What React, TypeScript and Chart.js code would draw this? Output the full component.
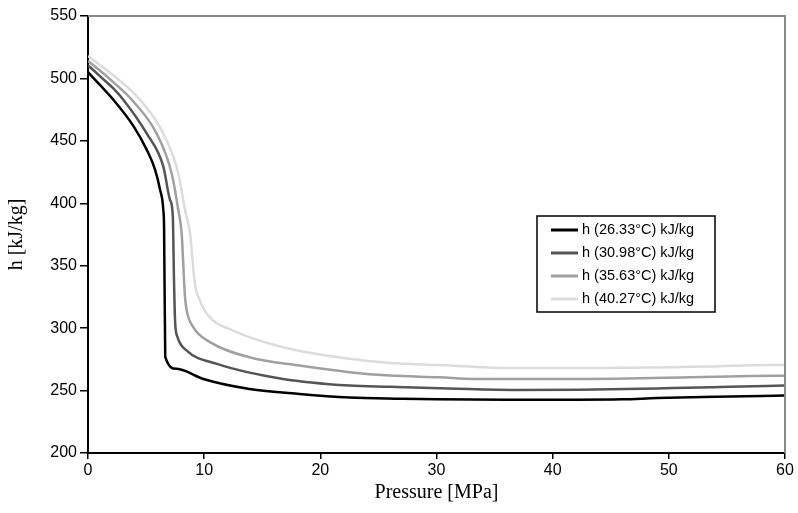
import React, { useEffect, useRef } from "react";
import { Chart, registerables } from "chart.js";

Chart.register(...registerables);

// ---- Data ----
const seriesLabels = [
  "h (26.33°C) kJ/kg",
  "h (30.98°C) kJ/kg",
  "h (35.63°C) kJ/kg",
  "h (40.27°C) kJ/kg",
];
const seriesColors = ["#000000", "#555555", "#a0a0a0", "#dcdcdc"];

const p26 = [0, 1, 2.18, 3.9, 5.05, 5.77, 6.2, 6.48, 6.55, 6.65, 7.63, 9.93, 13.9, 18.2, 22.5, 27, 30, 36, 42, 46, 49, 54, 60];
const h26 = [505, 495, 483, 462, 443, 427, 411, 395, 380, 277, 267.4, 259.3, 251.3, 247.3, 244.5, 243.5, 243, 242.7, 242.7, 243, 244, 245, 246];

const p31 = [0, 1, 2.18, 3.04, 5.05, 6.48, 7.06, 7.3, 7.4, 7.5, 7.7, 8.5, 11.1, 16.8, 22.5, 26, 30.3, 36.6, 42.3, 50.3, 55.2, 60];
const h31 = [510.6, 502, 492, 483, 456, 429.6, 402.8, 390, 340, 305, 293, 282, 271.4, 259.3, 254, 253, 251.8, 250.5, 250.7, 252, 253, 254];

const p36 = [0, 1, 2.18, 3.76, 5.9, 7.2, 7.77, 8.06, 8.35, 8.5, 9.06, 10.5, 13.9, 18.2, 22.5, 26, 30.3, 33.2, 42.3, 51.8, 57, 60];
const h36 = [514, 506.5, 497, 483, 456, 424, 394.7, 376, 325, 314, 300.8, 288.8, 276.7, 270, 264.7, 262, 260.6, 259.3, 259.3, 260.6, 261.7, 261.9];

const p40 = [0, 1, 2.18, 4.47, 6.48, 7.77, 8.35, 8.78, 9.2, 9.64, 10.35, 12.5, 16.8, 22.5, 26, 30.3, 36, 42.3, 53.5, 58.7, 60];
const h40 = [518, 511, 502.5, 483, 456, 424, 394.7, 376, 335.8, 322, 310, 298, 284.7, 275.4, 272, 270.5, 268, 268, 269.2, 270.5, 270.5];

const xTicks = [0, 10, 20, 30, 40, 50, 60];
const yTicks = [200, 250, 300, 350, 400, 450, 500, 550];

const SANS = "'Liberation Sans', Arial, sans-serif";
const SERIF = "'Liberation Serif', 'Times New Roman', serif";

const zip = (xs: number[], ys: number[]) => xs.map((x, i) => ({ x, y: ys[i] }));

const frameAndLegend = {
  id: "frameAndLegend",
  afterDraw(chart: any) {
    const { ctx, chartArea } = chart;
    const { left, right, top, bottom } = chartArea;
    ctx.save();
    // Excel-like gray top/right frame
    ctx.strokeStyle = "#888888";
    ctx.lineWidth = 2;
    ctx.beginPath();
    ctx.moveTo(left, top);
    ctx.lineTo(right, top);
    ctx.lineTo(right, bottom);
    ctx.stroke();

    // Legend box
    const bx = 537, by = 216, bw = 178, bh = 96;
    ctx.fillStyle = "#ffffff";
    ctx.fillRect(bx, by, bw, bh);
    ctx.strokeStyle = "#000000";
    ctx.lineWidth = 1.5;
    ctx.strokeRect(bx, by, bw, bh);
    ctx.font = `14.5px ${SANS}`;
    ctx.textBaseline = "middle";
    chart.data.datasets.forEach((ds: any, i: number) => {
      const y = by + 14 + i * 23;
      ctx.strokeStyle = ds.borderColor;
      ctx.lineWidth = 3;
      ctx.beginPath();
      ctx.moveTo(bx + 14, y);
      ctx.lineTo(bx + 41, y);
      ctx.stroke();
      ctx.fillStyle = "#000000";
      ctx.fillText(ds.label, bx + 45, y);
    });
    ctx.restore();
  },
};

export default function App() {
  const ref = useRef<HTMLCanvasElement | null>(null);
  useEffect(() => {
    document.body.style.margin = "0";
    const canvas = ref.current!;
    const series = [zip(p26, h26), zip(p31, h31), zip(p36, h36), zip(p40, h40)];
    const chart = new Chart(canvas, {
      type: "line",
      data: {
        datasets: series.map((d, i) => ({
          label: seriesLabels[i],
          data: d,
          borderColor: seriesColors[i],
          backgroundColor: seriesColors[i],
          borderWidth: 2.5,
          pointRadius: 0,
          cubicInterpolationMode: "monotone" as const,
          fill: false,
        })),
      },
      options: {
        animation: false,
        responsive: false,
        devicePixelRatio: 1,
        layout: { padding: { top: 16, right: 13, left: 0, bottom: 0 } },
        plugins: { legend: { display: false }, tooltip: { enabled: false } },
        scales: {
          x: {
            type: "linear",
            min: 0,
            max: 60,
            afterFit: (s: any) => { s.height = 60; },
            afterBuildTicks: (s: any) => { s.ticks = xTicks.map((v) => ({ value: v })); },
            grid: { display: true, drawOnChartArea: false, drawTicks: true, tickLength: 6, color: "#000", lineWidth: 1.5 },
            border: { display: true, color: "#000", width: 2 },
            ticks: { color: "#000", font: { family: SANS, size: 16 }, padding: 2, maxRotation: 0 },
            title: { display: true, text: "Pressure [MPa]", color: "#000", font: { family: SERIF, size: 20 }, padding: { top: 0, bottom: 8 } },
          },
          y: {
            type: "linear",
            min: 200,
            max: 550,
            afterFit: (s: any) => { s.width = 88; },
            afterBuildTicks: (s: any) => { s.ticks = yTicks.map((v) => ({ value: v })); },
            grid: { display: true, drawOnChartArea: false, drawTicks: true, tickLength: 8, color: "#000", lineWidth: 1.5 },
            border: { display: true, color: "#000", width: 2 },
            ticks: { color: "#000", font: { family: SANS, size: 16 }, padding: 3 },
            title: { display: true, text: "h [kJ/kg]", color: "#000", font: { family: SERIF, size: 20 }, padding: { top: 5, bottom: 0 } },
          },
        },
      },
      plugins: [frameAndLegend],
    });
    return () => chart.destroy();
  }, []);
  return <canvas ref={ref} width={798} height={513} style={{ display: "block", width: 798, height: 513 }} />;
}
